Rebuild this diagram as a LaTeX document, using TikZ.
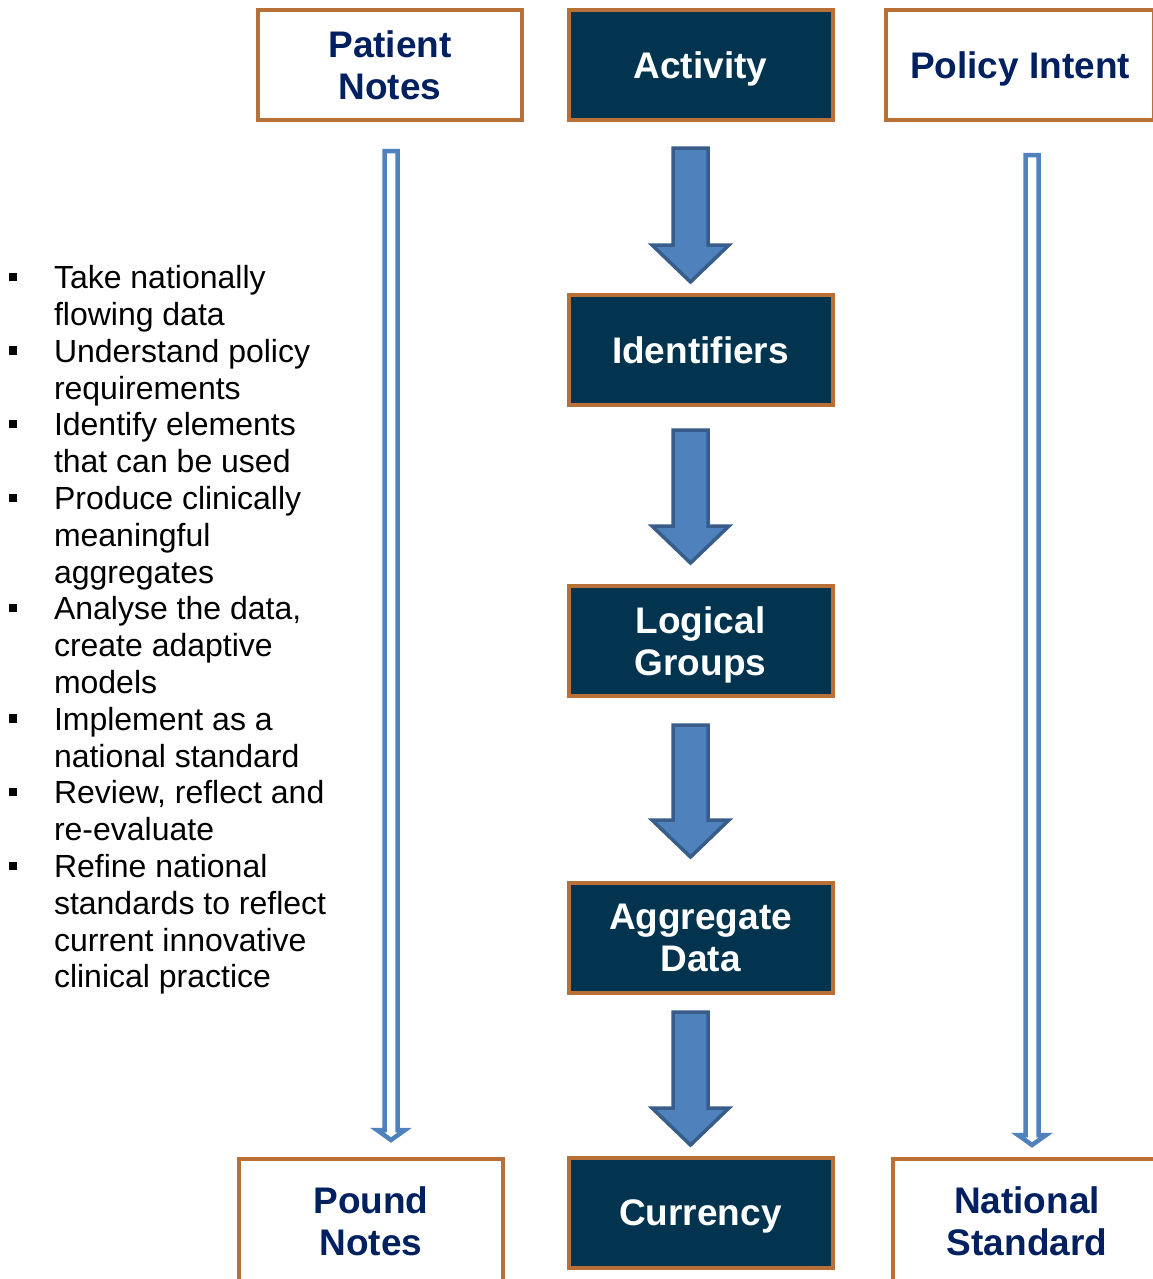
\documentclass[tikz,border=0pt]{standalone}
\usepackage{fontspec}
\setmainfont{Liberation Sans}
\usetikzlibrary{calc}
\definecolor{borderorange}{RGB}{184,112,56}
\definecolor{darkfill}{RGB}{2,52,80}
\definecolor{navytext}{RGB}{0,32,96}
\definecolor{arrowfill}{RGB}{79,129,189}
\definecolor{arrowline}{RGB}{56,93,138}
\tikzset{
  box/.style={draw=borderorange, line width=4pt, minimum width=264pt, minimum height=110pt,
    inner sep=0pt, outer sep=0pt, align=center, text depth=0pt, font=\bfseries\fontsize{37}{42}\selectfont},
  darkbox/.style={box, fill=darkfill, text=white},
  lightbox/.style={box, fill=white, text=navytext},
  fatarrow/.style={fill=arrowfill, draw=arrowline, line width=3.5pt, line join=miter},
  thinarrow/.style={fill=white, draw=arrowfill, line width=4.5pt, line join=miter},
  listtext/.style={inner sep=0pt, outer sep=0pt, anchor=mid west, font=\fontsize{32}{36.8}\selectfont},
  bulletsq/.style={fill=black, inner sep=0pt, outer sep=0pt, minimum size=8.5pt}
}
% #1 from node, #2 to node, #3 top offset, #4 tip offset
\newcommand{\fatarrowdraw}[4]{%
  \coordinate (fa-#1-t) at (#1.south);
  \coordinate (fa-#1-b) at (#1.south |- #2.north);
  \draw[fatarrow] ($(fa-#1-t)+(-27.5,#3)$) -- ($(fa-#1-t)+(7.5,#3)$)
    -- ($(fa-#1-b)+(7.5,-#4-37)$) -- ($(fa-#1-b)+(28.5,-#4-37)$)
    -- ($(fa-#1-b)+(-10,-#4)$) -- ($(fa-#1-b)+(-48.5,-#4-37)$)
    -- ($(fa-#1-b)+(-27.5,-#4-37)$) -- cycle;
}
% #1 from, #2 to, #3 x offset, #4 top offset, #5 tip offset
\newcommand{\thinarrowdraw}[5]{%
  \coordinate (ta-#1-t) at ($(#1.south)+(#3,#4)$);
  \coordinate (ta-#1-b) at ($(#1.south |- #2.north)+(#3,-#5)$);
  \draw[thinarrow] ($(ta-#1-t)+(-6.5,0)$) -- ($(ta-#1-t)+(6.5,0)$)
    -- ($(ta-#1-b)+(6.5,-12)$) -- ($(ta-#1-b)+(14,-12)$)
    -- ($(ta-#1-b)+(0,-2)$) -- ($(ta-#1-b)+(-14,-12)$)
    -- ($(ta-#1-b)+(-6.5,-12)$) -- cycle;
}
\begin{document}
\begin{tikzpicture}[x=1pt,y=-1pt]
\useasboundingbox (0,0) rectangle (1152,1279);
\fill[white] (0,0) rectangle (1152,1279);

% centre column
\node[darkbox] (act) at (700.5,65) {Activity};
\node[darkbox] (ide) at (700.5,350) {Identifiers};
\node[darkbox] (log) at (700.5,641) {Logical\\Groups};
\node[darkbox] (agg) at (700.5,938) {Aggregate\\Data};
\node[darkbox] (cur) at (700.5,1213) {Currency};

% side boxes
\node[lightbox] (pat) at (390,65) {Patient\\Notes};
\node[lightbox, minimum width=268pt] (pol) at (1020,65) {Policy Intent};
\node[lightbox, minimum height=124pt] (pou) at (371,1221) {Pound\\Notes};
\node[lightbox, minimum width=268pt, minimum height=124pt] (nat) at (1027,1221) {National\\Standard};

% block arrows
\fatarrowdraw{act}{ide}{28}{13}
\fatarrowdraw{ide}{log}{25}{23}
\fatarrowdraw{log}{agg}{29}{26}
\fatarrowdraw{agg}{cur}{19}{13}

% thin arrows
\thinarrowdraw{pat}{pou}{1}{31}{17}
\thinarrowdraw{pol}{nat}{12}{35}{12}

% bullet list
\foreach \t [count=\i from 0] in {Take nationally, flowing data, Understand policy, requirements,
  Identify elements, that can be used, Produce clinically, meaningful, aggregates,
  {Analyse the data,}, create adaptive, models, Implement as a, national standard,
  {Review, reflect and}, re-evaluate, Refine national, standards to reflect,
  current innovative, clinical practice}
  \node[listtext] (l\i) at (54,{286+36.8*\i}) {\t};
\foreach \i in {0,2,4,6,9,12,14,16}
  \node[bulletsq] (b\i) at (13,{277+36.8*\i}) {};
\end{tikzpicture}
\end{document}
